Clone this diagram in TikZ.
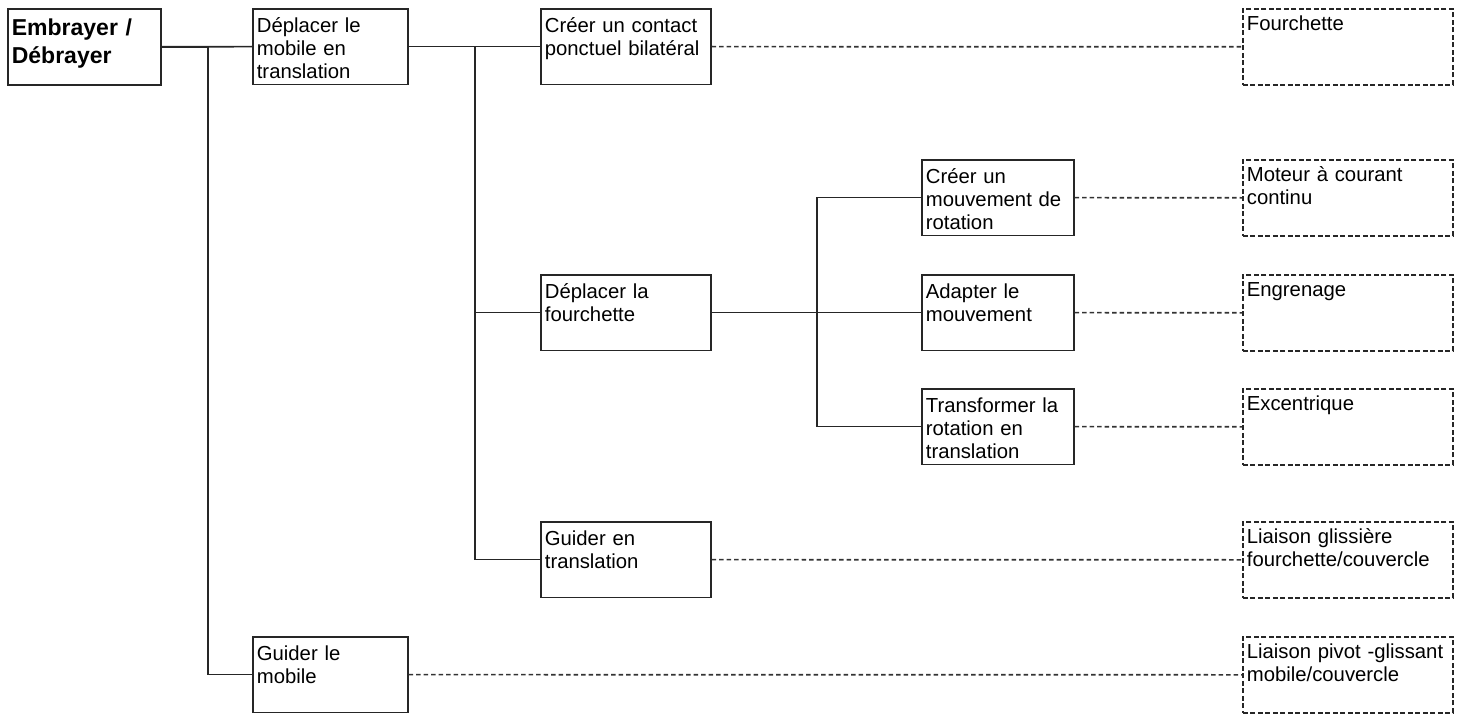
\documentclass[tikz,border=0pt]{standalone}
\usepackage{fontspec}
\setmainfont{Liberation Sans}
\begin{document}
\begin{tikzpicture}[x=1pt,y=-1pt,
  every node/.style={font=\fontsize{20.3}{23}\selectfont},
  base/.style={rectangle, anchor=north west, inner xsep=4pt, inner ysep=0pt, align=left, line width=1.7pt, draw=black!85},
  fbox/.style={base, text height=23.5pt, text depth=52pt},
  sbox/.style={base, dash pattern=on 5pt off 2.5pt, text height=22pt, text depth=54pt},
  rootbox/.style={base, font=\bfseries\fontsize{23}{28}\selectfont, text height=27pt, text depth=49pt},
  link/.style={line width=1.7pt, draw=black!85},
  dlink/.style={line width=1.7pt, draw=black!80, dash pattern=on 4.5pt off 3pt}
]
\useasboundingbox (0,0) rectangle (1474,717);

\node[rootbox, text width=145pt] (root) at (7,8) {Embrayer /\\Débrayer};

\node[fbox, text width=147pt] (d1) at (252,8) {Déplacer le\\mobile en\\translation};
\node[fbox, text width=147pt] (g1) at (252,636) {Guider le\\mobile};

\node[fbox, text width=162pt] (c2) at (540,8) {Créer un contact\\ponctuel bilatéral};
\node[fbox, text width=162pt] (d2) at (540,274) {Déplacer la\\fourchette};
\node[fbox, text width=162pt] (g2) at (540,521) {Guider en\\translation};

\node[fbox, text width=144pt] (m3) at (921,159) {Créer un\\mouvement de\\rotation};
\node[fbox, text width=144pt] (a3) at (921,274) {Adapter le\\mouvement};
\node[fbox, text width=144pt] (t3) at (921,388) {Transformer la\\rotation en\\translation};

\node[sbox, text width=202pt] (s1) at (1242,8) {Fourchette};
\node[sbox, text width=202pt] (s2) at (1242,159) {Moteur à courant\\continu};
\node[sbox, text width=202pt] (s3) at (1242,274) {Engrenage};
\node[sbox, text width=202pt] (s4) at (1242,388) {Excentrique};
\node[sbox, text width=202pt] (s5) at (1242,521) {Liaison glissière\\fourchette/couvercle};
\node[sbox, text width=202pt] (s6) at (1242,636) {Liaison pivot -glissant\\mobile/couvercle};

% solid tree connectors
\draw[link] (root.east) -- (d1.west);
\draw[link] (root.east) -- ++(46,0) coordinate (b0) |- (g1.west);

\draw[link] (d1.east) -- (c2.west);
\draw[link] (d1.east) -- ++(66.5,0) coordinate (b1) |- (g2.west);
\draw[link] (b1 |- d2.west) -- (d2.west);

\draw[link] (d2.east) -- (a3.west);
\draw[link] (d2.east) -- ++(105.5,0) coordinate (b2);
\draw[link] (m3.west) -- (b2 |- m3.west) -- (b2 |- t3.west) -- (t3.west);

% dashed connectors
\draw[dlink] (c2.east) -- (s1.west);
\draw[dlink] (m3.east) -- (s2.west);
\draw[dlink] (a3.east) -- (s3.west);
\draw[dlink] (t3.east) -- (s4.west);
\draw[dlink] (g2.east) -- (s5.west);
\draw[dlink] (g1.east) -- (s6.west);
\end{tikzpicture}
\end{document}
